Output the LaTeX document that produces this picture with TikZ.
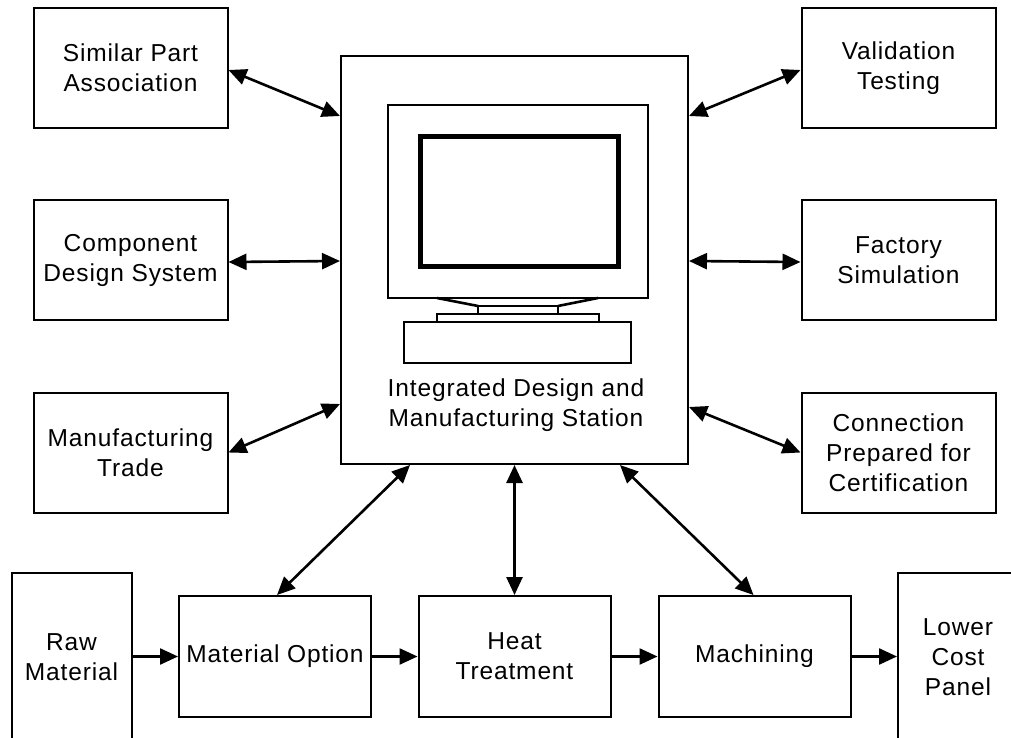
\documentclass[tikz,border=0pt]{standalone}
\usepackage{fontspec}
\setmainfont{Liberation Sans}[LetterSpace=3.5]
\usetikzlibrary{arrows.meta,calc}

\begin{document}
\begin{tikzpicture}[x=1pt,y=-1pt,
  lbl/.style={align=center,inner sep=0pt,font=\fontsize{24.5}{30}\selectfont},
  box/.style={lbl,draw,line width=2pt},
  side/.style={box,minimum width=194pt,minimum height=120pt},
  flow/.style={box,minimum width=192pt,minimum height=121pt},
  edge/.style={box,minimum width=120pt,minimum height=168pt},
  tip/.tip={Triangle[length=18pt,width=16pt]},
  link/.style={line width=2.6pt,tip-tip},
  feed/.style={line width=2.4pt,-tip},
  sketch/.style={line width=2pt},
]
\useasboundingbox (0,0) rectangle (1011,738);
\clip (0,0) rectangle (1011,738);

% central station
\node[box,minimum width=347pt,minimum height=408pt] (st) at (514.5,260) {};

% monitor drawing
\draw[sketch] (388,105) rectangle (648,298);
\draw[line width=5pt] (420.5,136.5) rectangle (618.5,266.5);
\draw[line width=2.6pt] (437,298) -- (478,306);
\draw[line width=2.6pt] (598,298) -- (558,306);
\draw[sketch] (478,306) rectangle (558,314);
\draw[sketch] (437,314) rectangle (599,322);
\draw[sketch] (404,322) rectangle (631,363);
\node[lbl] (stlbl) at (516,405) {Integrated Design and\\Manufacturing Station};

% surrounding tools
\node[side] (spa) at (130.5,68) {Similar Part\\Association};
\node[side] (cds) at (130.5,260) {Component\\Design System};
\node[side] (mt)  at (130.5,452.5) {Manufacturing\\Trade};
\node[side] (vt)  at (898.5,68) {Validation\\Testing};
\node[side] (fs)  at (898.5,260) {Factory\\Simulation};
\node[side] (cpc) at (898.5,452.5) {Connection\\Prepared for\\Certification};

% process chain
\node[edge] (raw) at (71.5,657) {Raw\\Material};
\node[flow] (mo)  at (275,656.5) {Material Option};
\node[flow] (ht)  at (514.5,656.5) {Heat\\Treatment};
\node[flow] (mc)  at (754.5,656.5) {Machining};
\node[edge] (lcp) at (958,657) {Lower\\Cost\\Panel};

% links to the station
\draw[link] ($(spa.east)+(0,2)$) -- ($(st.north west)+(0,61)$);
\draw[link] ($(cds.east)+(0,2)$) -- ($(st.north west)+(0,206)$);
\draw[link] (mt.east) -- ($(st.north west)+(0,349)$);
\draw[link] ($(vt.west)+(0,2)$) -- ($(st.north east)+(0,61)$);
\draw[link] ($(fs.west)+(0,2)$) -- ($(st.north east)+(0,206)$);
\draw[link] (cpc.west) -- ($(st.north east)+(0,352)$);
\draw[link] ($(mo.north)+(2,0)$) -- ($(st.south)+(-104.5,0)$);
\draw[link] (ht.north) -- (st.south);
\draw[link] ($(mc.north)+(-1,0)$) -- ($(st.south)+(105.5,0)$);

% flow along the chain
\draw[feed] (raw.east |- mo.west) -- (mo.west);
\draw[feed] (mo.east) -- (ht.west);
\draw[feed] (ht.east) -- (mc.west);
\draw[feed] (mc.east) -- (lcp.west |- mc.east);
\end{tikzpicture}
\end{document}
